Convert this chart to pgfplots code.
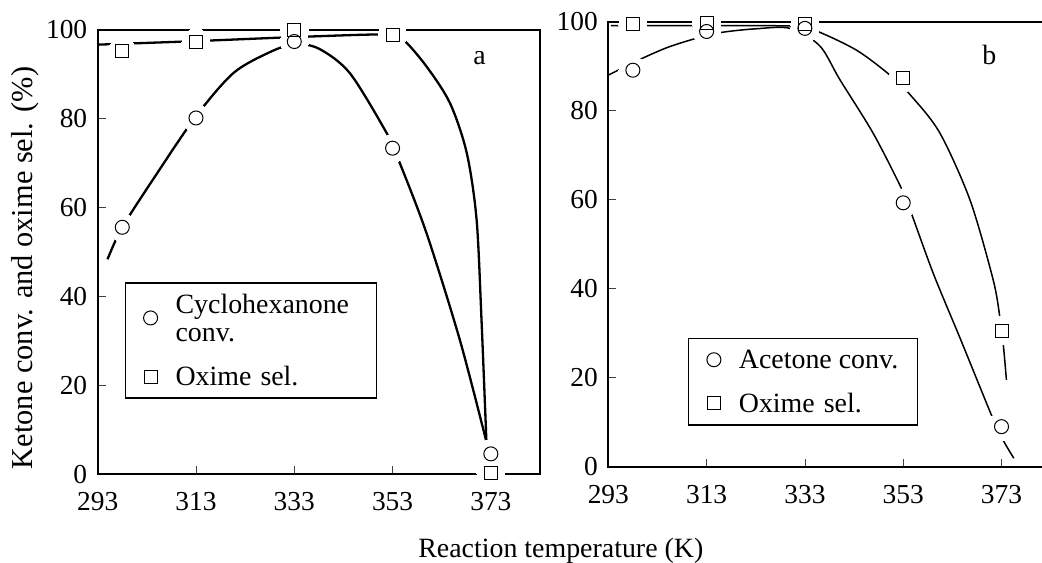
\documentclass[border=0pt]{standalone}
\usepackage{fontspec}
\setmainfont{Liberation Serif}
\usepackage{pgfplots}
\usepackage{pgfplotstable}
\pgfplotsset{compat=1.18}

% Measured points: reaction temperature (K), ketone conversion (%), oxime selectivity (%)
\pgfplotstableread{
T    conv   sel
298  55.6   95.2
313  80.2   97.2
333  97.4   100.0
353  73.4   98.9
373  4.6    0.4
}\cyclohexanone

\pgfplotstableread{
T    conv   sel
298  89.1   99.4
313  97.8   99.8
333  98.5   99.4
353  59.3   87.4
373  9.0    30.6
}\acetone

% Hand-drawn trend curves through the measured points
\pgfplotstableread{
T      y
295.0  48.4
298.0  55.6
305.0  67.6
313.0  80.6
320.6  90.3
328.0  95.0
333.0  96.8
338.0  95.8
344.3  90.3
351.8  76.8
354.2  70.8
359.9  54.3
366.7  30.2
372.1  7.3
}\cyclotrendconv

\pgfplotstableread{
T      y
293.0  96.7
313.0  97.5
333.0  98.4
352.0  99.0
355.2  97.8
359.9  91.8
364.7  83.5
368.1  72.3
370.1  57.3
371.1  34.7
372.1  7.3
}\cyclotrendsel

\pgfplotstableread{
T      y
293.0  88.0
299.4  91.5
305.0  94.2
311.0  96.3
316.1  97.6
323.0  98.4
330.0  98.5
336.0  94.6
340.1  87.0
346.9  74.9
352.7  62.4
354.7  56.8
359.2  43.2
364.6  28.8
371.1  11.2
373.1  6.4
375.5  1.9
}\acetrendconv

\pgfplotstableread{
T      y
293.5  99.1
313.0  99.1
331.0  99.0
335.4  97.9
343.5  93.6
350.3  88.0
354.8  83.1
360.5  74.9
366.6  59.9
371.3  42.0
372.7  33.3
373.4  27.0
374.0  19.5
}\acetrendsel

\pgfplotsset{
  panel/.style={
    scale only axis, clip=false, axis on top,
    xmin=293, ymin=0, ymax=100,
    xtick={293,313,333,353,373}, ytick={0,20,...,100},
    tick align=inside, tick pos=left, major tick length=8bp,
    tick style={black!75, line width=0.8bp},
    axis line style={line width=1.7bp},
    tick label style={font=\fontsize{27.5}{30}\selectfont},
    /pgf/number format/assume math mode=true,
    xticklabel style={yshift=-15bp},
    yticklabel style={xshift=-7bp},
    legend cell align=left,
    legend style={draw=black, line width=1.2bp, fill=white,
      inner xsep=0pt, anchor=north west,
      font=\fontsize{28}{28.4}\selectfont,
      nodes={inner sep=0pt}},
  },
  % legend key: a single mark, 25bp in from the frame, text 50bp in
  markleg/.style={legend image code/.code={%
      \path[draw=none, fill=none] (0bp,-1bp) rectangle (50bp,1bp);
      \draw[##1, only marks] plot coordinates {(25bp,0bp)};}},
  % white disc behind each symbol, so the trend curves stop short of it
  halo/.style={forget plot, only marks, mark=*, mark size=14bp,
    mark options={draw=white, fill=white, line width=0pt}},
  circ/.style={forget plot, only marks, mark=o, mark size=7bp, black,
    mark options={line width=1bp}},
  sqr/.style={forget plot, only marks, mark=square, mark size=6.5bp, black,
    mark options={line width=1bp}},
}

\begin{document}
\begin{tikzpicture}
\useasboundingbox (0bp,0bp) rectangle (1042bp,563bp);

% (a) cyclohexanone
\begin{axis}[panel, at={(97.7bp,88.7bp)}, anchor=south west,
  width=442.3bp, height=444.3bp, xmax=383.0,
  legend style={at={(0.0617,0.4321)}, inner ysep=11bp, row sep=24.2bp}]
  \addplot[forget plot, smooth, line width=2.3bp] table[x=T, y=y] {\cyclotrendconv};
  \addplot[forget plot, smooth, line width=2.3bp] table[x=T, y=y] {\cyclotrendsel};
  \addplot[halo] table[x=T, y=conv] {\cyclohexanone};
  \addplot[halo] table[x=T, y=sel] {\cyclohexanone};
  \addplot[circ] table[x=T, y=conv] {\cyclohexanone};
  \addplot[sqr] table[x=T, y=sel] {\cyclohexanone};
  \addlegendimage{markleg, mark=o, mark size=7bp, line width=1bp, black}
  \addlegendentry[text depth=]{\parbox[t]{201bp}{Cyclohexanone\\conv.}}
  \addlegendimage{markleg, mark=square, mark size=6.5bp, line width=1bp, black}
  \addlegendentry{Oxime\hspace{9bp}sel.}
  \node[anchor=base, font=\fontsize{28}{30}\selectfont] at (axis cs:370.7,92.2) {a};
\end{axis}

% (b) acetone
\begin{axis}[panel, at={(608.3bp,96.3bp)}, anchor=south west,
  width=440bp, height=445bp, xmax=382.52,
  legend style={at={(0.1818,0.2899)}, inner ysep=11.5bp, row sep=23bp}]
  \addplot[forget plot, smooth, line width=1.5bp] table[x=T, y=y] {\acetrendconv};
  \addplot[forget plot, smooth, line width=1.5bp] table[x=T, y=y] {\acetrendsel};
  \addplot[halo] table[x=T, y=conv] {\acetone};
  \addplot[halo] table[x=T, y=sel] {\acetone};
  \addplot[circ] table[x=T, y=conv] {\acetone};
  \addplot[sqr] table[x=T, y=sel] {\acetone};
  \addlegendimage{markleg, mark=o, mark size=7bp, line width=1bp, black}
  \addlegendentry{\parbox[t]{178.4bp}{Acetone conv.}}
  \addlegendimage{markleg, mark=square, mark size=6.5bp, line width=1bp, black}
  \addlegendentry{Oxime\hspace{9bp}sel.}
  \node[anchor=base, font=\fontsize{28}{30}\selectfont] at (axis cs:370.5,90.3) {b};
\end{axis}

% shared axis titles
\node[rotate=90, anchor=base, font=\fontsize{30.5}{32}\selectfont] at (32bp,295bp)
  {Ketone conv. and oxime sel. (\%)};
\node[anchor=base, font=\fontsize{28}{30}\selectfont] at (560.8bp,5.3bp)
  {Reaction temperature (K)};
\end{tikzpicture}
\end{document}
